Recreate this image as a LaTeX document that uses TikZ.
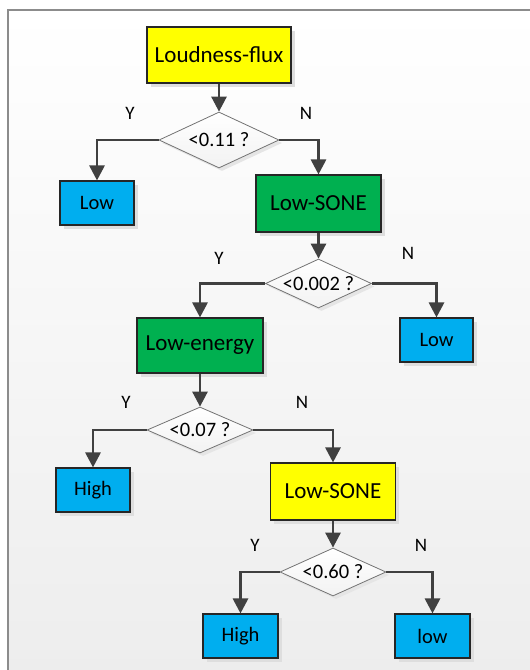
\documentclass[tikz,border=0pt]{standalone}
\usepackage{fontspec}
\setmainfont{Carlito}
\usetikzlibrary{shapes.geometric,arrows.meta,shadows}
\definecolor{cyel}{HTML}{FFFF00}
\definecolor{cgrn}{HTML}{00B050}
\definecolor{cblu}{HTML}{00AEEF}
\definecolor{cline}{HTML}{404040}
\definecolor{cframe}{HTML}{8C8C8C}
\newcommand{\dtxt}[1]{\smash{\makebox[0pt]{\raisebox{-0.33em}{#1}}}}
\tikzset{
  box/.style={draw=black!85, line width=1.1pt, inner sep=0pt,
    drop shadow={shadow xshift=3.5pt, shadow yshift=-3.5pt, fill=black!13, opacity=1}},
  bigbox/.style={box, minimum width=125pt, minimum height=57pt, font=\fontsize{23}{27}\selectfont},
  smallbox/.style={box, fill=cblu, minimum width=74pt, minimum height=44pt, font=\fontsize{20.5}{24}\selectfont},
  diam/.style={diamond, draw=black!55, line width=0.8pt, inner sep=0pt, top color=white, bottom color=black!5,
    font=\fontsize{20.5}{24}\selectfont,
    drop shadow={shadow xshift=3pt, shadow yshift=-3pt, fill=black!10, opacity=1}},
  yn/.style={font=\fontsize{19}{22}\selectfont, inner sep=0pt},
  arr/.style={draw=cline, line width=2.8pt, -{Triangle[width=15pt,length=15pt]}}
}
\begin{document}
\begin{tikzpicture}[x=1pt,y=-1pt]
\useasboundingbox (0,0) rectangle (530,670);
\shade[top color=white, bottom color=black!7] (8,10) rectangle (531,671);
\draw[cframe, line width=1.6pt] (8,671) -- (8,10) -- (531,10);

% boxes
\node[bigbox, fill=cyel, minimum width=144pt, minimum height=56pt] (lf) at (219,55) {Loudness-flux};
\node[smallbox] (low1) at (97,203) {Low};
\node[bigbox, fill=cgrn] (ls1) at (318.5,203.5) {Low-SONE};
\node[bigbox, fill=cgrn, minimum width=126pt, minimum height=55pt] (le) at (200,345.5) {Low-energy};
\node[smallbox, minimum width=73pt] (low2) at (436.5,340) {Low};
\node[smallbox] (high1) at (93,490) {High};
\node[bigbox, fill=cyel] (ls2) at (333,491.5) {Low-SONE};
\node[smallbox, minimum width=75pt] (high2) at (240.5,636) {High};
\node[smallbox, minimum width=75pt] (low3) at (432.5,636) {low};

% diamonds
\node[diam, minimum width=120pt, minimum height=56pt] (d1) at (219,140) {\dtxt{<0.11 ?}};
\node[diam, minimum width=106pt, minimum height=49pt] (d2) at (318.5,283.5) {\dtxt{<0.002 ?}};
\node[diam, minimum width=106pt, minimum height=46pt] (d3) at (200,430) {\dtxt{<0.07 ?}};
\node[diam, minimum width=106pt, minimum height=48pt] (d4) at (333,572) {\dtxt{<0.60 ?}};

% labels
\node[yn] (y1) at (130,113) {Y};
\node[yn] (n1) at (306,113) {N};
\node[yn] (y2) at (219,258) {Y};
\node[yn] (n2) at (408,253) {N};
\node[yn] (y3) at (126,402) {Y};
\node[yn] (n3) at (302,402) {N};
\node[yn] (y4) at (255,545) {Y};
\node[yn] (n4) at (421,545) {N};

% connectors
\draw[arr] (lf.south) -- (d1.north);
\draw[arr] (d1.west) -| (low1.north);
\draw[arr] (d1.east) -| (ls1.north);
\draw[arr] (ls1.south) -- (d2.north);
\draw[arr] (d2.west) -| (le.north);
\draw[arr] (d2.east) -| (low2.north);
\draw[arr] (le.south) -- (d3.north);
\draw[arr] (d3.west) -| (high1.north);
\draw[arr] (d3.east) -| (ls2.north);
\draw[arr] (ls2.south) -- (d4.north);
\draw[arr] (d4.west) -| (high2.north);
\draw[arr] (d4.east) -| (low3.north);
\end{tikzpicture}
\end{document}
